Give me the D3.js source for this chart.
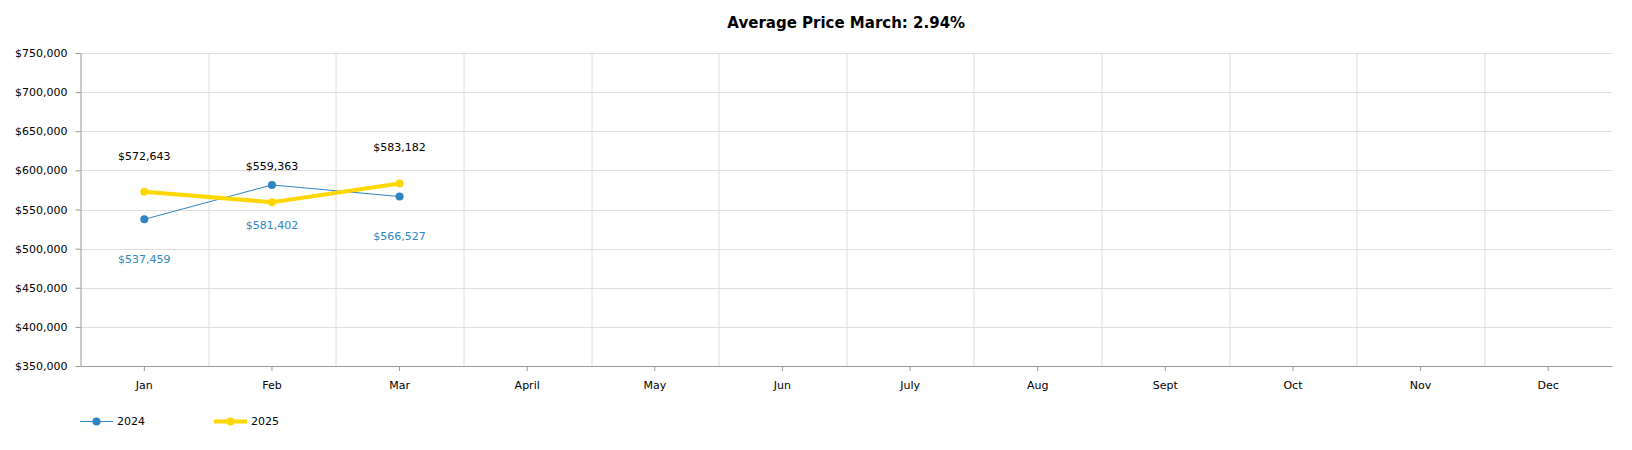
<!DOCTYPE html>
<html>
<head>
<meta charset="utf-8">
<script src="https://cdn.jsdelivr.net/npm/d3@7"></script>
<style>
  body { margin: 0; background: #fff; }
  svg { font-family: "DejaVu Sans", Verdana, sans-serif; }
</style>
</head>
<body>
<div id="chart"></div>
<script>
const width = 1632;
const height = 450;

const months = ["Jan", "Feb", "Mar", "April", "May", "Jun", "July", "Aug", "Sept", "Oct", "Nov", "Dec"];
const values2024 = [537459, 581402, 566527];
const values2025 = [572643, 559363, 583182];
const yTicks = [350000, 400000, 450000, 500000, 550000, 600000, 650000, 700000, 750000];
const title = "Average Price March: 2.94%";

const blue = "#2e86c1";
const yellow = "#ffd700";

const margin = { top: 53, right: 20, bottom: 84, left: 80.5 };
const innerWidth = width - margin.left - margin.right;
const innerHeight = height - margin.top - margin.bottom;

const svg = d3.select("#chart")
    .append("svg")
    .attr("width", width)
    .attr("height", height);

svg.append("text")
    .attr("x", margin.left + innerWidth / 2)
    .attr("y", 28)
    .attr("text-anchor", "middle")
    .attr("font-size", 15)
    .attr("font-weight", "bold")
    .attr("fill", "#000")
    .text(title);

const g = svg.append("g")
    .attr("transform", `translate(${margin.left},${margin.top})`);

const x = d3.scaleBand()
    .domain(months)
    .range([0, innerWidth]);

const y = d3.scaleLinear()
    .domain([350000, 750000])
    .range([innerHeight, 0]);

const cx = d => x(d) + x.bandwidth() / 2;

// horizontal grid
g.append("g")
    .selectAll("line")
    .data(yTicks)
    .enter()
    .append("line")
    .attr("x1", 0)
    .attr("x2", innerWidth)
    .attr("y1", d => Math.round(y(d)) + 0.5)
    .attr("y2", d => Math.round(y(d)) + 0.5)
    .attr("stroke", "#dedede");

// vertical grid at band edges
g.append("g")
    .selectAll("line")
    .data(months.slice(1))
    .enter()
    .append("line")
    .attr("x1", d => Math.round(x(d)) + 0.5)
    .attr("x2", d => Math.round(x(d)) + 0.5)
    .attr("y1", 0)
    .attr("y2", innerHeight)
    .attr("stroke", "#dedede");

const yAxis = g.append("g")
    .call(d3.axisLeft(y)
        .tickValues(yTicks)
        .tickSize(5)
        .tickPadding(8)
        .tickFormat(d => "$" + d3.format(",")(d)));

const xAxis = g.append("g")
    .attr("transform", `translate(0,${innerHeight})`)
    .call(d3.axisBottom(x).tickSize(5).tickPadding(10).tickSizeOuter(0));

[yAxis, xAxis].forEach(a => {
    a.selectAll("path, line").attr("stroke", "#999");
    a.selectAll("text").attr("font-size", 11).attr("fill", "#000")
        .attr("font-family", "DejaVu Sans, Verdana, sans-serif");
});
yAxis.select(".domain").attr("d", `M0.5,0V${innerHeight}`);

const line = d3.line()
    .x((d, i) => cx(months[i]))
    .y(d => y(d));

// 2024
g.append("path")
    .datum(values2024)
    .attr("d", line)
    .attr("fill", "none")
    .attr("stroke", blue)
    .attr("stroke-width", 1);

g.selectAll(".p2024")
    .data(values2024)
    .enter()
    .append("circle")
    .attr("cx", (d, i) => cx(months[i]))
    .attr("cy", d => y(d))
    .attr("r", 4)
    .attr("fill", blue);

// 2025
g.append("path")
    .datum(values2025)
    .attr("d", line)
    .attr("fill", "none")
    .attr("stroke", yellow)
    .attr("stroke-width", 4);

g.selectAll(".p2025")
    .data(values2025)
    .enter()
    .append("circle")
    .attr("cx", (d, i) => cx(months[i]))
    .attr("cy", d => y(d))
    .attr("r", 4)
    .attr("fill", yellow);

const money = d => "$" + d3.format(",")(d);

g.selectAll(".l2025")
    .data(values2025)
    .enter()
    .append("text")
    .attr("x", (d, i) => cx(months[i]))
    .attr("y", d => y(d) - 36)
    .attr("dy", "0.35em")
    .attr("text-anchor", "middle")
    .attr("font-size", 11)
    .attr("fill", "#000")
    .text(money);

g.selectAll(".l2024")
    .data(values2024)
    .enter()
    .append("text")
    .attr("x", (d, i) => cx(months[i]))
    .attr("y", d => y(d) + 40)
    .attr("dy", "0.35em")
    .attr("text-anchor", "middle")
    .attr("font-size", 11)
    .attr("fill", blue)
    .text(money);

// legend
const legend = svg.append("g").attr("transform", "translate(80,421.5)");
const items = [
    { name: "2024", color: blue, w: 1, x: 0 },
    { name: "2025", color: yellow, w: 4, x: 134 }
];
items.forEach(it => {
    const lg = legend.append("g").attr("transform", `translate(${it.x},0)`);
    lg.append("line").attr("x1", 0).attr("x2", 33).attr("y1", 0).attr("y2", 0)
        .attr("stroke", it.color).attr("stroke-width", it.w);
    lg.append("circle").attr("cx", 16.5).attr("cy", 0).attr("r", 4).attr("fill", it.color);
    lg.append("text").attr("x", 37).attr("y", 0).attr("dy", "0.35em")
        .attr("font-size", 11).attr("fill", "#000").text(it.name);
});
</script>
</body>
</html>
